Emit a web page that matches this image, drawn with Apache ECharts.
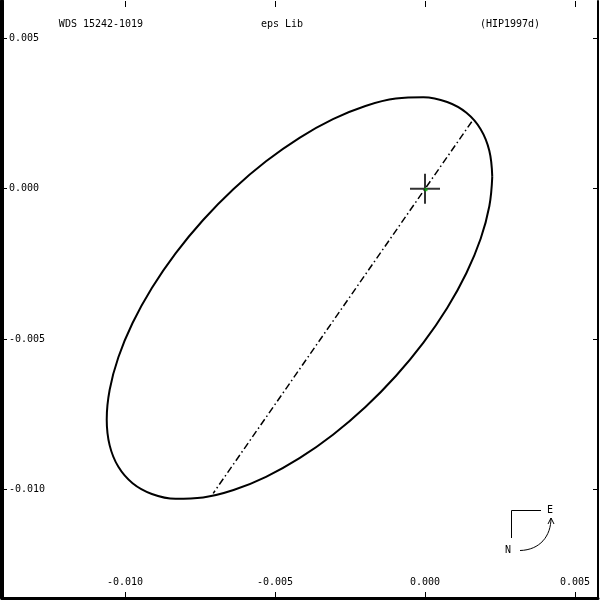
<!DOCTYPE html>
<html>
<head>
<meta charset="utf-8">
<script src="https://cdn.jsdelivr.net/npm/echarts@6/dist/echarts.min.js"></script>
<style>html,body{margin:0;padding:0;background:#fff}#c{width:600px;height:600px}</style>
</head>
<body>
<div id="c"></div>
<script>
// Tick positions
var xTicks = [-0.010, -0.005, 0.000, 0.005];
var yTicks = [0.005, 0.000, -0.005, -0.010];
// Titles
var titleLeft = 'WDS 15242-1019';
var titleMid = 'eps Lib';
var titleRight = '(HIP1997d)';
// Orbit ellipse points (x, y)
var orbitX = [0.002242,0.002144,0.001855,0.001381,0.000739,-0.000053,-0.000971,-0.001986,-0.003068,-0.004183,-0.005299,-0.006381,-0.007396,-0.008314,-0.009105,-0.009748,-0.010221,-0.010511,-0.010609,-0.010511,-0.010221,-0.009748,-0.009105,-0.008314,-0.007396,-0.006381,-0.005299,-0.004183,-0.003068,-0.001986,-0.000971,-0.000053,0.000739,0.001381,0.001855,0.002144,0.002242];
var orbitY = [0.000401,-0.000584,-0.001662,-0.002800,-0.003963,-0.005116,-0.006224,-0.007253,-0.008173,-0.008953,-0.009573,-0.010012,-0.010256,-0.010300,-0.010141,-0.009785,-0.009241,-0.008527,-0.007664,-0.006679,-0.005600,-0.004462,-0.003299,-0.002147,-0.001039,-0.000009,0.000910,0.001691,0.002310,0.002749,0.002994,0.003038,0.002879,0.002522,0.001978,0.001264,0.000401];
// Line of nodes endpoints
var nodesX = [0.001557, -0.00706];
var nodesY = [0.002226, -0.01012];
// Primary star
var primary = [0, 0];

var orbit = orbitX.map(function(x, i){ return [x, orbitY[i]]; });
var nodes = nodesX.map(function(x, i){ return [x, nodesY[i]]; });

var FONT = 'DejaVu Sans Mono';
var fmt = function(v){ return v.toFixed(3); };
var xMin = -0.0141, xMax = 0.0057667, yMin = -0.013598, yMax = 0.006236;

var chart = echarts.init(document.getElementById('c'), null, {renderer:'canvas'});
chart.setOption({
  animation: false,
  backgroundColor: '#fff',
  grid: {left: 2, right: 2, top: 1, bottom: 2, containLabel: false},
  xAxis: [
    {type:'value', position:'bottom', min:xMin, max:xMax,
     axisLine:{show:true, onZero:false, lineStyle:{color:'#000', width:3}},
     axisTick:{show:true, inside:true, length:6, customValues:xTicks, lineStyle:{color:'#000', width:1}},
     axisLabel:{show:true, inside:true, margin:11, customValues:xTicks, formatter:fmt, color:'#000', fontFamily:FONT, fontSize:10},
     splitLine:{show:false}},
    {type:'value', position:'top', min:xMin, max:xMax,
     axisLine:{show:false, onZero:false},
     axisTick:{show:true, inside:true, length:6, customValues:xTicks, lineStyle:{color:'#000', width:1}},
     axisLabel:{show:false}, splitLine:{show:false}}
  ],
  yAxis: [
    {type:'value', position:'left', min:yMin, max:yMax,
     axisLine:{show:true, onZero:false, lineStyle:{color:'#000', width:4}},
     axisTick:{show:true, inside:true, length:5, customValues:yTicks, lineStyle:{color:'#000', width:1}},
     axisLabel:{show:true, inside:true, margin:7, customValues:yTicks, formatter:fmt, color:'#000', fontFamily:FONT, fontSize:10},
     splitLine:{show:false}},
    {type:'value', position:'right', min:yMin, max:yMax,
     axisLine:{show:true, onZero:false, lineStyle:{color:'#000', width:2}},
     axisTick:{show:true, inside:true, length:5, customValues:yTicks, lineStyle:{color:'#000', width:1}},
     axisLabel:{show:false}, splitLine:{show:false}}
  ],
  graphic: [
    {type:'text', x:101, y:24, style:{text:titleLeft, fill:'#000', font:'10px "DejaVu Sans Mono"', textAlign:'center', textVerticalAlign:'middle'}},
    {type:'text', x:282, y:24, style:{text:titleMid, fill:'#000', font:'10px "DejaVu Sans Mono"', textAlign:'center', textVerticalAlign:'middle'}},
    {type:'text', x:510, y:24, style:{text:titleRight, fill:'#000', font:'10px "DejaVu Sans Mono"', textAlign:'center', textVerticalAlign:'middle'}},
    {type:'polyline', shape:{points:[[541,510.5],[511.5,510.5],[511.5,538]]}, style:{stroke:'#000', lineWidth:1, fill:null}},
    {type:'text', x:550, y:510, style:{text:'E', fill:'#000', font:'10px "DejaVu Sans Mono"', textAlign:'center', textVerticalAlign:'middle'}},
    {type:'text', x:508, y:550, style:{text:'N', fill:'#000', font:'10px "DejaVu Sans Mono"', textAlign:'center', textVerticalAlign:'middle'}},
    {type:'bezierCurve', shape:{x1:520, y1:550.5, cpx1:540, cpy1:550, cpx2:551, cpy2:536, x2:551, y2:518}, style:{stroke:'#000', lineWidth:1, fill:null}},
    {type:'polyline', shape:{points:[[548,524],[551,518],[554,524]]}, style:{stroke:'#000', lineWidth:1, fill:null}}
  ],
  series: [
    {type:'line', data:orbit, smooth:0.4, symbol:'none', xAxisIndex:0, yAxisIndex:0,
     lineStyle:{color:'#000', width:2}, z:2},
    {type:'line', data:nodes, symbol:'none', xAxisIndex:0, yAxisIndex:0,
     lineStyle:{color:'#000', width:1.5, type:[7,3,1.5,3]}, z:2},
    {type:'scatter', data:[primary], xAxisIndex:0, yAxisIndex:0,
     symbol:'path://M14,0 L16,0 L16,30 L14,30 Z M0,14 L30,14 L30,16 L0,16 Z', symbolSize:30,
     itemStyle:{color:'#000'}, z:3},
    {type:'scatter', data:[primary], xAxisIndex:0, yAxisIndex:0,
     symbol:'rect', symbolSize:3, symbolOffset:[1,1], itemStyle:{color:'#00b000'}, z:4}
  ]
});
</script>
</body>
</html>
